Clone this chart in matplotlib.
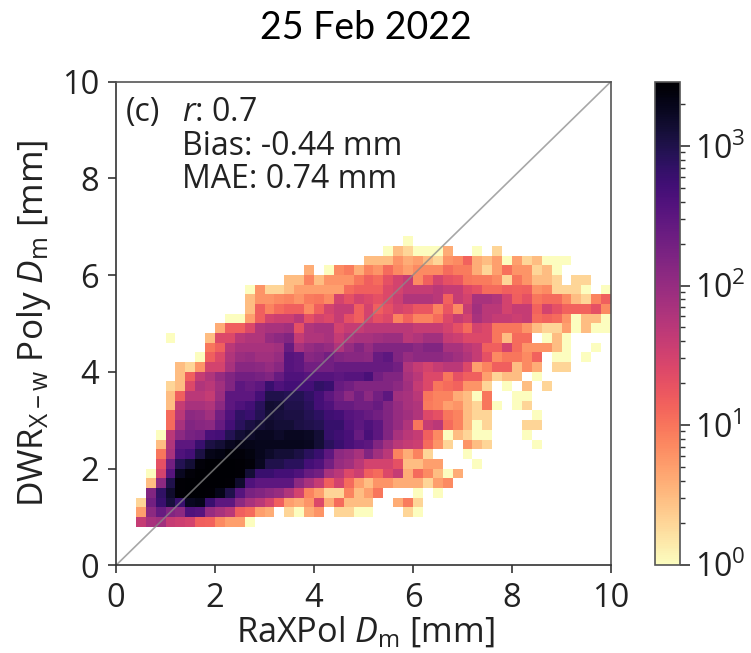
import numpy as np
import matplotlib
matplotlib.use("Agg")
import matplotlib.pyplot as plt
from matplotlib.colors import LogNorm

# Histogram counts per row of 0.2 mm bins: first_col[row] is the first filled x bin
first_col = {4:2,5:2,6:2,7:3,8:3,9:3,10:4,11:4,12:4,13:4,14:5,15:5,16:5,17:5,18:5,19:6,20:6,21:8,22:9,
             23:5,24:10,25:11,26:13,27:13,28:13,29:17,30:19,31:25,32:27,33:29}
counts_rows = {
 4:[40,70,80,40,35,30,15,14,7,5,5,1],
 5:[5,120,250,150,120,400,350,100,70,50,15,12,5,4,0,2,1,4,6,0,2,2,1,1, 0,0,0,2,1],
 6:[2,200,600,1200,600,1800,2000,600,300,300,120,70,50,30,15,5,4,6,25,4,12,3,3,3, 0,0,4,9,2],
 7:[150,700,1500,2800,3000,3000,2800,2000,1000,350,180,150,120,100,60,30,8,5,2,2,8,3,5, 10,0,0,0,1,0,1],
 8:[3,120,1000,2800,3000,3000,3000,3000,2800,1500,400,300,300,300,300,120,70,40,15,30,12,5,3, 6,6,4,4,4,2,5,7],
 9:[1,30,350,1800,2500,3000,3000,3000,3000,2800,1300,600,600,500,500,400,250,200,70,50,25,35,15, 12,25,40,4,12,7,3,1,4],
 10:[20,200,900,1300,2500,3000,3000,3000,2800,2500,1800,1000,1000,800,800,500,400,200,100,80,50,30, 30,30,20,3,3,5,5,0,0,0,1],
 11:[10,70,400,500,1100,2000,2200,2600,2500,2300,1900,1600,1300,1300,1100,800,600,300,120,100,70,150, 80,50,8,4,8,2,0,0,0,1],
 12:[3,60,300,300,600,1100,1300,1800,2100,2000,1900,1900,1900,1900,1900,1800,1300,800,600,450,350,300, 150,80,50,40,35,12,6,2,0,6,3,2,0,0,0,0,1],
 13:[1,50,120,180,200,450,500,900,1300,1600,1800,1800,1600,1800,1800,1700,1300,650,550,450,250,450, 300,150,70,50,40,15,7,1,3,2,1,1,0,0,0,1],
 14:[12,70,150,130,120,250,500,800,1100,1300,1500,1300,1300,1100,1000,900,650,650,400,300,400, 300,150,100,60,10,40,50,12,8,3,1,2,0,0,0,2,2],
 15:[12,50,120,110,80,200,400,700,600,900,1300,1200,1100,1100,900,750,550,500,350,300,250, 200,150,100,80,60,25,20,10,8,3,2,2,0,0,0,0,1],
 16:[3,40,70,70,60,120,300,400,500,800,1400,1300,1000,1000,800,500,400,250,250,200,200, 250,150,100,70,60,9,8,5,6,3,2,10,1,0,1,2],
 17:[3,15,50,50,40,90,300,300,300,500,1000,1000,900,900,700,500,300,200,120,200,120, 200,300,80,70,50,10,8,8,4,3,1,10,0,0,1,1],
 18:[2,3,25,60,50,80,150,300,250,300,600,400,500,500,500,700,600,250,200,150,150, 150,150,120,80,40,25,10,12,14,6,6,2,0,1,0,3,0,2],
 19:[3,15,40,60,100,150,200,200,180,150,250,400,400,350,350,350,300,350,350,450, 200,150,150,70,50,25,25,10,20,15,15,5,2,3,3,0,1],
 20:[3,2,6,30,30,70,130,130,120,100,130,350,300,200,200,200,250,250,250,250, 250,250,200,60,40,30,40,50,50,25,5,8,15,15,3,7,4,0,2,2],
 21:[1,15,25,60,90,100,80,80,100,350,300,130,150,200,150,130,130,120, 250,300,150,100,120,120,120,100,80,60,40,20,7,10,10,7,14,0,1,1,0,1],
 22:[10,15,50,70,70,70,70,80,250,70,100,120,100,60,100,150,100, 150,150,150,150,120,150,150,70,70,50,40,15,15,30,12,6,6,6,3,1,0,0,1],
 23:[1,0,0,0,3,25,25,50,60,60,100,120,150,40,60,60,70,40,60,70,70, 80,90,90,50,60,80,80,40,35,25,25,25,10,3,12,12,0,1,3,1],
 24:[4,15,15,25,60,70,70,80,20,60,70,70,30,40,40,50, 50,50,50,50,40,40,40,30,20,12,30,25,10,10,10,6,3,2,2,5,1,3,1,1],
 25:[1,1,5,15,30,35,35,50,20,30,25,40,20,15,30, 20,25,8,14,8,8,12,25,40,30,70,50,40,40,35,40,12,14,12,6,1,3,3,1],
 26:[3,15,8,12,15,15,7,15,30,40,40,15,30, 15,20,30,25,18,18,8,18,7,40,80,50,50,30,40,40,14,30,20,14,14,14,20,7],
 27:[3,6,6,7,8,6,9,10,7,30,20,30,25, 20,25,35,60,60,60,50,14,40,30,70,70,60,30,15,20,10,12,12,7,3,2,8,15],
 28:[1,6,2,2,3,5,5,5,5,5,12,15,15, 15,25,30,40,40,40,50,40,40,25,20,12,12,15,14,15,6,7,2,2,2,1,0,1],
 29:[3,3,8,3,6,6,6,10,15, 12,20,30,40,7,15,30,20,18,10,9,9,7,2,10,6,3,3,2,0,2,2],
 30:[4,0,1,7,9,4,8, 6,12,7,5,7,7,7,12,9,9,4,2,5,11,6,6,2,3,1],
 31:[3,3,3,6,4,5,3,2,6,7,14,4,3,5,1,5,2,3,1,1,1],
 32:[1,3,2,1,1,1,4,0,0,1,0,2],
 33:[1],
}
x_ticks = [0, 2, 4, 6, 8, 10]
y_ticks = [0, 2, 4, 6, 8, 10]
bin_edges = np.linspace(0, 10, 51)

FONT = "Open Sans"
plt.rcParams["font.family"] = FONT
plt.rcParams["mathtext.fontset"] = "custom"
plt.rcParams["mathtext.rm"] = FONT
plt.rcParams["mathtext.it"] = FONT + ":italic"
plt.rcParams["mathtext.default"] = "it"

W, H = 751, 653
fig = plt.figure(figsize=(W / 100, H / 100), dpi=100)
def rect(l, t, r, b):
    return [l / W, 1 - b / H, (r - l) / W, (b - t) / H]

grid = np.zeros((50, 50))
for row, vals in counts_rows.items():
    start = first_col[row]
    grid[row, start:start + len(vals)] = vals
masked = np.ma.masked_equal(grid, 0)

ax = fig.add_axes(rect(116, 81.5, 611, 565.3))
norm = LogNorm(vmin=1, vmax=2900)
mesh = ax.pcolormesh(bin_edges, bin_edges, masked, cmap="magma_r", norm=norm, linewidth=0, rasterized=True)
ax.plot([0, 10], [0, 10], color="#8a8a8a", lw=1.2, alpha=0.75)
ax.set_xlim(0, 10)
ax.set_ylim(0, 10)
ax.set_xticks(x_ticks)
ax.set_yticks(y_ticks)
ax.tick_params(labelsize=23.5, length=6, width=1.2, color="#333333", labelcolor="#222222", pad=6)
for s in ax.spines.values():
    s.set_linewidth(1.2)
    s.set_color("#555555")
ax.spines["left"].set_color("#333333")
ax.spines["bottom"].set_color("#333333")

def px(x, y):
    return x / W, 1 - y / H
fig.text(*px(365, 642), r"RaXPol $D_{\mathrm{m}}$ [mm]", ha="center", va="baseline", fontsize=24.7, color="#222222")
fig.text(*px(43, 323), r"DWR$_{\mathrm{X-w}}$ Poly $D_{\mathrm{m}}$ [mm]", ha="center", va="baseline",
         rotation=90, rotation_mode="anchor", fontsize=25.3, color="#222222")
kw = dict(transform=fig.transFigure, va="baseline", ha="left", fontsize=23, color="#222222")
fig.text(*px(126, 121), "(c)", **kw)
fig.text(*px(182, 121), r"$r$: 0.7", **kw)
fig.text(*px(182, 155), "Bias: -0.44 mm", **kw)
fig.text(*px(182, 188), "MAE: 0.74 mm", **kw)
fig.text(*px(365.5, 39), "25 Feb 2022", transform=fig.transFigure, ha="center", va="baseline",
         fontsize=27, color="black", family="Lato")

cax = fig.add_axes(rect(655, 81.5, 680, 564.5))
cb = fig.colorbar(mesh, cax=cax)
cb.ax.tick_params(which="major", labelsize=23, length=7, width=1.2, color="#333333", labelcolor="#222222", pad=4)
cb.ax.tick_params(which="minor", length=3.5, width=1, color="#333333")
cb.outline.set_linewidth(1.2)
cb.outline.set_edgecolor("#555555")

fig.savefig("out.png", dpi=100)
